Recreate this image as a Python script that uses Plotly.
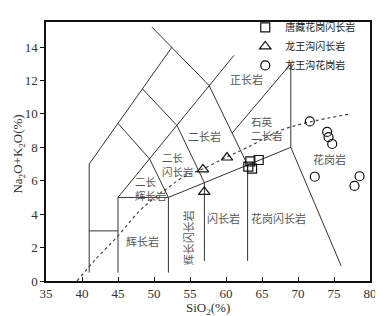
import plotly.graph_objects as go

# ---- data ----
# classification boundary polylines (SiO2, Na2O+K2O)
bnd_1_x = [41, 41, 52.5]; bnd_1_y = [0.5, 7, 14]
bnd_2_x = [41, 45]; bnd_2_y = [3, 3]
bnd_3_x = [45, 45, 52, 52]; bnd_3_y = [0.5, 5, 5, 0.5]
bnd_4_x = [52, 69, 76]; bnd_4_y = [5, 8, 0.9]
bnd_5_x = [69, 69]; bnd_5_y = [8, 13]
bnd_6_x = [57, 57]; bnd_6_y = [1.2, 5.88]
bnd_7_x = [63, 63]; bnd_7_y = [1.2, 6.94]
bnd_8_x = [49.7, 57.65, 63]; bnd_8_y = [15.2, 11.7, 6.94]
bnd_9_x = [45, 61.1]; bnd_9_y = [5, 13.5]
bnd_10_x = [45, 49.4, 52]; bnd_10_y = [9.43, 7.3, 5]
bnd_11_x = [48.4, 53.2, 57]; bnd_11_y = [11.5, 9.3, 5.88]
bnd_12_x = [60.85, 69]; bnd_12_y = [8.85, 13]
boundaries = [
    (bnd_1_x, bnd_1_y), (bnd_2_x, bnd_2_y), (bnd_3_x, bnd_3_y), (bnd_4_x, bnd_4_y),
    (bnd_5_x, bnd_5_y), (bnd_6_x, bnd_6_y), (bnd_7_x, bnd_7_y), (bnd_8_x, bnd_8_y),
    (bnd_9_x, bnd_9_y), (bnd_10_x, bnd_10_y), (bnd_11_x, bnd_11_y), (bnd_12_x, bnd_12_y),
]

# alkaline / subalkaline dotted divide
div_x = [39.3, 42, 45, 48, 50, 52, 54, 57, 60, 63, 67.5, 71.5, 77.3]
div_y = [0, 1.35, 2.7, 4.2, 4.95, 5.6, 6.2, 6.75, 7.4, 8.0, 9.0, 9.5, 10.0]

# samples
tz_sio2 = [63.38, 64.54, 63.62, 63.1]
tz_alk = [7.16, 7.24, 6.72, 6.85]
lwd_sio2 = [56.8, 60.14, 56.98]
lwd_alk = [6.68, 7.39, 5.33]
lwg_sio2 = [71.64, 74.05, 74.24, 74.75, 72.33, 77.85, 78.55]
lwg_alk = [9.55, 8.92, 8.61, 8.2, 6.24, 5.69, 6.27]

series_names = ["唐藏花岗闪长岩", "龙王沟闪长岩", "龙王沟花岗岩"]

# field labels (centered)
field_text = ["正长岩", "二长岩", "辉长岩", "闪长岩", "花岗闪长岩", "花岗岩"]
field_x = [62.87, 57.08, 48.43, 59.72, 67.26, 74.44]
field_y = [12.07, 8.65, 2.42, 3.77, 3.77, 7.3]
# two-line field labels (left aligned)
field2_text = ["石英<br>二长岩", "二长<br>闪长岩", "二长<br>辉长岩"]
field2_x = [63.19, 50.83, 47.08]
field2_y = [9.12, 6.96, 5.56]
vert_text = "辉长闪长岩"
vert_x, vert_y = 54.76, 2.57

x_ticks = [35, 40, 45, 50, 55, 60, 65, 70, 75, 80]
y_ticks = [0, 2, 4, 6, 8, 10, 12, 14]

# ---- figure ----
fig = go.Figure()
for bx, by in boundaries:
    fig.add_trace(go.Scatter(x=bx, y=by, mode="lines", showlegend=False,
                             line=dict(color="#333", width=1), hoverinfo="skip"))
fig.add_trace(go.Scatter(x=div_x, y=div_y, mode="lines", showlegend=False,
                         line=dict(color="#444", width=1.2, dash="dot", shape="spline"),
                         hoverinfo="skip"))

fig.add_trace(go.Scatter(x=tz_sio2, y=tz_alk, mode="markers", name=series_names[0],
                         marker=dict(symbol="square-open", size=9, color="#111", line=dict(width=1.2))))
fig.add_trace(go.Scatter(x=lwd_sio2, y=lwd_alk, mode="markers", name=series_names[1],
                         marker=dict(symbol="triangle-up-open", size=10, color="#111", line=dict(width=1.2))))
fig.add_trace(go.Scatter(x=lwg_sio2, y=lwg_alk, mode="markers", name=series_names[2],
                         marker=dict(symbol="circle-open", size=9, color="#111", line=dict(width=1.2))))

cjk = "Noto Sans CJK SC"
for t, x, y in zip(field_text, field_x, field_y):
    fig.add_annotation(x=x, y=y, text=t, showarrow=False,
                       font=dict(family=cjk, size=11, color="#555"))
for t, x, y in zip(field2_text, field2_x, field2_y):
    fig.add_annotation(x=x, y=y, text=t, showarrow=False, xanchor="left", align="left",
                       font=dict(family=cjk, size=10.5, color="#555"))
fig.add_annotation(x=vert_x, y=vert_y, text=vert_text, showarrow=False, textangle=-90,
                   font=dict(family=cjk, size=11, color="#555"))

serif = "Liberation Serif, Times New Roman, serif"
fig.add_annotation(xref="paper", yref="paper", x=0.5, y=-0.064, yanchor="top",
                   text="SiO<sub>2</sub>(%)", showarrow=False,
                   font=dict(family=serif, size=13, color="#333"))
fig.add_annotation(xref="paper", yref="paper", x=-0.085, y=0.49, xanchor="center",
                   text="Na<sub>2</sub>O+K<sub>2</sub>O(%)", showarrow=False, textangle=-90,
                   font=dict(family=serif, size=13, color="#333"))

# the page body has an 8px default margin, so the figure is sized/margined to compensate
fig.update_layout(
    width=375, height=308,
    margin=dict(l=38, r=13, t=5, b=35),
    paper_bgcolor="white", plot_bgcolor="white",
    showlegend=True,
    legend=dict(x=0.615, y=1.035, xanchor="left", yanchor="top",
                bgcolor="rgba(0,0,0,0)", font=dict(family=cjk, size=10, color="#222"),
                tracegroupgap=0, itemwidth=30),
)
fig.update_xaxes(range=[35, 80], tickvals=x_ticks, showgrid=False, zeroline=False,
                 showline=True, linecolor="#111", linewidth=1.5, mirror=True,
                 ticks="inside", ticklen=4, tickcolor="#111",
                 tickfont=dict(family=serif, size=13, color="#333"))
fig.update_yaxes(range=[0, 15.5], tickvals=y_ticks, showgrid=False, zeroline=False,
                 showline=True, linecolor="#111", linewidth=1.5, mirror=True,
                 ticks="outside", ticklen=4, tickcolor="#111",
                 tickfont=dict(family=serif, size=13, color="#333"))

fig.write_html("out.html")
